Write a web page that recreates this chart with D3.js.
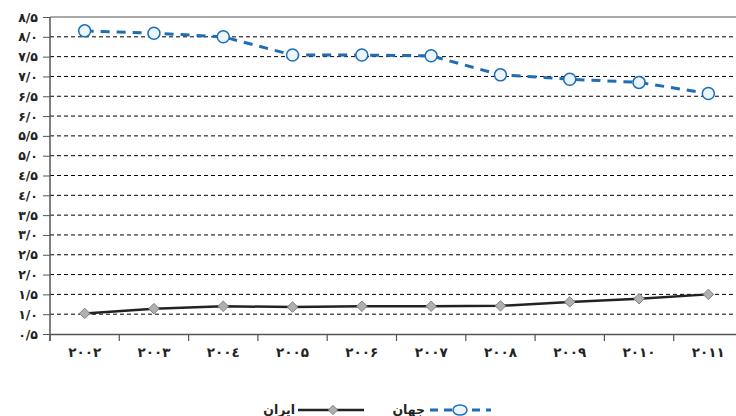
<!DOCTYPE html>
<html><head><meta charset="utf-8">
<script src="https://cdn.jsdelivr.net/npm/d3@7"></script>
<style>body{margin:0;background:#fff}svg{display:block}</style>
</head><body>
<svg id="c" width="736" height="416"></svg>
<script>
const years = ["۲۰۰۲","۲۰۰۳","۲۰۰٤","۲۰۰۵","۲۰۰۶","۲۰۰۷","۲۰۰۸","۲۰۰۹","۲۰۱۰","۲۰۱۱"];
const world = [8.15, 8.09, 8.00, 7.54, 7.54, 7.52, 7.04, 6.93, 6.85, 6.57];
const iran  = [1.02, 1.14, 1.20, 1.18, 1.20, 1.20, 1.21, 1.31, 1.39, 1.50];
const yTicks = [0.5,1,1.5,2,2.5,3,3.5,4,4.5,5,5.5,6,6.5,7,7.5,8,8.5];
const seriesNames = ["جهان","ایران"];

const fa = s => s.replace(/[0-9]/g, d => "۰۱۲۳٤۵۶۷۸۹"[+d]);
const fmtY = v => fa(v.toFixed(1).replace(".", "/"));

const svg = d3.select("#c");
const L = 50, R = 743, T = 17, B = 334;
const x = d3.scaleBand().domain(years).range([L, R]);
const y = d3.scaleLinear().domain([0.5, 8.5]).range([B, T]);
const font = "'DejaVu Sans', sans-serif";

// gridlines
svg.append("g").selectAll("line").data(yTicks.filter(v => v > 0.5)).join("line")
  .attr("x1", L).attr("x2", 736).attr("y1", d => y(d)).attr("y2", d => y(d))
  .attr("stroke", d => d === 8.5 ? "#555" : "#000")
  .attr("stroke-width", 1)
  .attr("stroke-dasharray", d => d === 8.5 ? null : "4,3");

// y axis
const ya = svg.append("g").attr("transform", `translate(${L},0)`)
  .call(d3.axisLeft(y).tickValues(yTicks).tickFormat(fmtY).tickSize(7).tickSizeOuter(0));
ya.select(".domain").remove();
ya.selectAll("line").attr("stroke", "#555");
ya.selectAll("text").attr("font-family", font).attr("font-size", 12.5).attr("font-weight", "bold")
  .attr("fill", "#222").attr("x", -12).attr("direction", "ltr");
svg.append("line").attr("x1", L).attr("x2", L).attr("y1", T).attr("y2", B + 7)
  .attr("stroke", "#555").attr("stroke-width", 1.5);

// x axis
const xa = svg.append("g").attr("transform", `translate(0,${B})`)
  .call(d3.axisBottom(x).tickSize(0));
xa.select(".domain").attr("stroke", "#555").attr("stroke-width", 1.5);
xa.selectAll("text").attr("font-family", font).attr("font-size", 13.5).attr("font-weight", "bold")
  .attr("fill", "#222").attr("dy", "1.45em").attr("direction", "ltr");
svg.append("g").selectAll("line").data(years).join("line")
  .attr("x1", d => x(d)).attr("x2", d => x(d)).attr("y1", B).attr("y2", B + 7)
  .attr("stroke", "#555").attr("stroke-width", 1.2);

const cx = d => x(d) + x.bandwidth() / 2;

// world series
const blue = "#1f6db3";
svg.append("path").datum(world)
  .attr("d", d3.line().x((d, i) => cx(years[i])).y(d => y(d)))
  .attr("fill", "none").attr("stroke", blue).attr("stroke-width", 3).attr("stroke-dasharray", "9,7");
svg.append("g").selectAll("circle").data(world).join("circle")
  .attr("cx", (d, i) => cx(years[i])).attr("cy", d => y(d)).attr("r", 6)
  .attr("fill", "#eaf5fc").attr("stroke", blue).attr("stroke-width", 1.5);

// iran series
svg.append("path").datum(iran)
  .attr("d", d3.line().x((d, i) => cx(years[i])).y(d => y(d)))
  .attr("fill", "none").attr("stroke", "#222").attr("stroke-width", 2.5);
const diamond = d3.symbol().type(d3.symbolDiamond2).size(70);
svg.append("g").selectAll("path").data(iran).join("path")
  .attr("d", diamond)
  .attr("transform", (d, i) => `translate(${cx(years[i])},${y(d)})`)
  .attr("fill", "#b0b0b0").attr("stroke", "#808080").attr("stroke-width", 1);

// legend
const lg = svg.append("g");
const ly = 410;
lg.append("line").attr("x1", 430).attr("x2", 491).attr("y1", ly).attr("y2", ly)
  .attr("stroke", blue).attr("stroke-width", 3).attr("stroke-dasharray", "8,6");
lg.append("ellipse").attr("cx", 460).attr("cy", ly).attr("rx", 7).attr("ry", 5)
  .attr("fill", "#eaf5fc").attr("stroke", blue).attr("stroke-width", 1.5);
lg.append("text").attr("x", 425).attr("y", ly + 4).attr("text-anchor", "end")
  .attr("font-family", font).attr("font-size", 12.5).attr("font-weight", "bold").attr("fill", "#222")
  .text(seriesNames[0]);
lg.append("line").attr("x1", 298).attr("x2", 364).attr("y1", ly).attr("y2", ly)
  .attr("stroke", "#222").attr("stroke-width", 2.5);
lg.append("path").attr("d", d3.symbol().type(d3.symbolDiamond2).size(55))
  .attr("transform", `translate(333,${ly})`)
  .attr("fill", "#b0b0b0").attr("stroke", "#808080");
lg.append("text").attr("x", 295).attr("y", ly + 4).attr("text-anchor", "end")
  .attr("font-family", font).attr("font-size", 12.5).attr("font-weight", "bold").attr("fill", "#222")
  .text(seriesNames[1]);
</script>
</body></html>
